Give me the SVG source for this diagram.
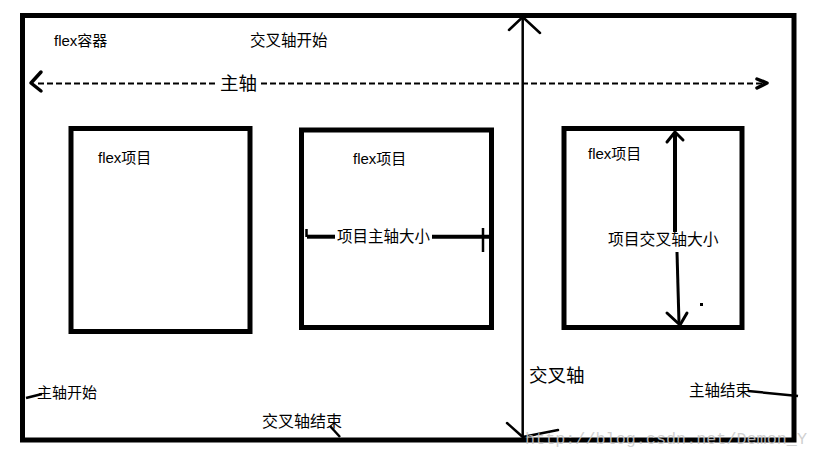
<svg xmlns="http://www.w3.org/2000/svg" width="816" height="458" viewBox="0 0 816 458">
<style>
.t{font-family:"Noto Sans CJK SC","Liberation Sans",sans-serif;fill:#000}
.f{font-family:"Liberation Sans","Noto Sans CJK SC",sans-serif;fill:#000;font-size:15px}
.box{fill:none;stroke:#000;stroke-width:5}
.ln{fill:none;stroke:#000;stroke-linecap:round;stroke-linejoin:round}
</style>
<rect width="816" height="458" fill="#fff"/>
<g id="container">
<rect x="22.5" y="15.5" width="771.5" height="424.5" class="box" stroke-width="5"/>
<text class="f" x="54" y="46">flex容器</text>
<text class="t" x="250" y="46" font-size="15.5">交叉轴开始</text>
<text class="t" x="37" y="398" font-size="15">主轴开始</text>
<text class="t" x="262" y="427" font-size="16">交叉轴结束</text>
<text class="t" x="689" y="396" font-size="15.5">主轴结束</text>
<text class="t" x="220" y="90" font-size="18.5">主轴</text>
<text class="t" x="529" y="382" font-size="18.5">交叉轴</text>
</g>
<g id="item1">
<rect x="71" y="128.5" width="179" height="203" class="box" stroke-width="4.5"/>
<text class="f" x="98" y="163">flex项目</text>
</g>
<g id="item2">
<rect x="301.5" y="130" width="190" height="197.5" class="box"/>
<text class="f" x="353" y="164">flex项目</text>
<text class="t" x="337" y="242" font-size="15.5">项目主轴大小</text>
</g>
<g id="item3">
<rect x="564" y="128.5" width="178" height="199" class="box"/>
<text class="f" x="588" y="159">flex项目</text>
<text class="t" x="608" y="245" font-size="15.8">项目交叉轴大小</text>
<rect x="700" y="303" width="3" height="3" fill="#000"/>
</g>
<g id="connectors">
<line x1="38" y1="83.5" x2="217" y2="83.5" stroke="#000" stroke-width="2" stroke-dasharray="6,3"/>
<line x1="261" y1="83.5" x2="766" y2="83.5" stroke="#000" stroke-width="2" stroke-dasharray="6,3"/>
<polyline class="ln" points="41,72 31,83 41,91" stroke-width="3.5"/>
<polyline class="ln" points="757,79 767,83 757,88" stroke-width="3.5"/>
<line x1="522.7" y1="17" x2="522.7" y2="437" stroke="#000" stroke-width="2.5"/>
<polyline class="ln" points="509,30 522.7,17 540,33" stroke-width="2.5"/>
<polyline class="ln" points="507,423 522.7,437 558,430" stroke-width="2.5"/>
<line x1="307" y1="236.7" x2="335" y2="236.7" stroke="#000" stroke-width="4"/>
<line x1="306.5" y1="229" x2="306.5" y2="237" stroke="#000" stroke-width="2.5"/>
<line x1="432" y1="236.7" x2="490" y2="236.7" stroke="#000" stroke-width="4"/>
<line x1="483" y1="228" x2="483" y2="252" stroke="#000" stroke-width="2.5"/>
<line x1="675" y1="133" x2="675" y2="232" stroke="#000" stroke-width="4"/>
<polyline class="ln" points="667,142 675,132 683,140" stroke-width="3"/>
<line x1="677" y1="252" x2="679" y2="323" stroke="#000" stroke-width="3"/>
<polyline class="ln" points="667,313 680,325 687,313" stroke-width="3"/>
<line x1="26" y1="398" x2="42" y2="394" stroke="#000" stroke-width="2.5"/>
<line x1="330" y1="426" x2="340" y2="437" stroke="#000" stroke-width="2.5"/>
<line x1="748" y1="391" x2="798" y2="396" stroke="#000" stroke-width="2.5"/>
</g>
<text x="525" y="444" font-family="Liberation Mono,monospace" font-size="16.8" fill="#c8c8c8" fill-opacity="0.85">http://blog.csdn.net/Demon_Y</text>
</svg>
